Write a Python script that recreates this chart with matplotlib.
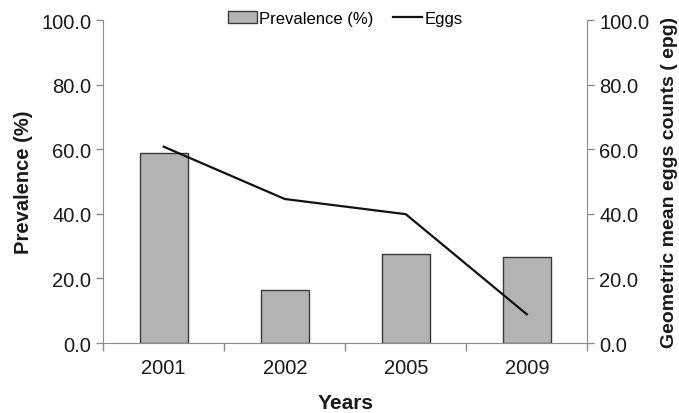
import matplotlib
matplotlib.use('Agg')
import matplotlib.pyplot as plt
import numpy as np

# Datos
years = ['2001', '2002', '2005', '2009']
prevalence = [59.0, 16.4, 27.6, 26.6]
eggs = [60.8, 44.6, 39.9, 8.9]
y_ticks = [0, 20, 40, 60, 80, 100]

plt.rcParams['font.family'] = ['Liberation Sans', 'DejaVu Sans']

axis_gray = '#8c8c8c'
text_col = '#1a1a1a'

fig = plt.figure(figsize=(6.79, 4.14), dpi=100)
ax = fig.add_axes([0.152, 0.169, 0.713, 0.780])
ax2 = ax.twinx()

x = np.arange(len(years))
bars = ax.bar(x, prevalence, width=0.4, color='#b3b3b3', edgecolor='#3a3a3a',
              linewidth=1.0, label='Prevalence (%)', zorder=2)
line, = ax2.plot(x, eggs, color='#111111', linewidth=1.6, label='Eggs', zorder=3)

for a in (ax, ax2):
    a.set_ylim(0, 100)
    a.set_yticks(y_ticks)
    a.set_yticklabels(['%.1f' % v for v in y_ticks], fontsize=14.5, color=text_col)
    a.set_xlim(-0.5, len(years) - 0.5)
    for s in a.spines.values():
        s.set_color(axis_gray)
    a.spines['top'].set_visible(False)
    a.tick_params(axis='y', colors=axis_gray, labelcolor=text_col, length=5, width=1)

ax.spines['right'].set_visible(False)
ax2.spines['left'].set_visible(False)
ax2.spines['bottom'].set_visible(False)

# ticks del eje x en los limites de las categorias
ax.set_xticks(np.arange(-0.5, len(years)), minor=True)
ax.set_xticks(x)
ax.set_xticklabels(years, fontsize=14.5, color=text_col)
ax.tick_params(axis='x', which='major', length=0, pad=11)
ax.tick_params(axis='x', which='minor', length=6, width=1, color=axis_gray)

ax.set_xlabel('Years', fontsize=15, fontweight='bold', color=text_col, labelpad=11)
ax.set_ylabel('Prevalence (%)', fontsize=14.5, fontweight='bold', color=text_col)
ax.yaxis.set_label_coords(-0.145, 0.5)
ax2.set_ylabel('Geometric mean eggs counts ( epg)', fontsize=14, fontweight='bold',
               color=text_col)
ax2.yaxis.set_label_coords(1.152, 0.5)

leg = ax.legend([bars, line], ['Prevalence (%)', 'Eggs'], loc='center',
                bbox_to_anchor=(0.5, 1.005), ncol=2, frameon=False, fontsize=12,
                handlelength=1.7, handletextpad=0.15, columnspacing=1.2)

plt.savefig('out.png', dpi=100)
